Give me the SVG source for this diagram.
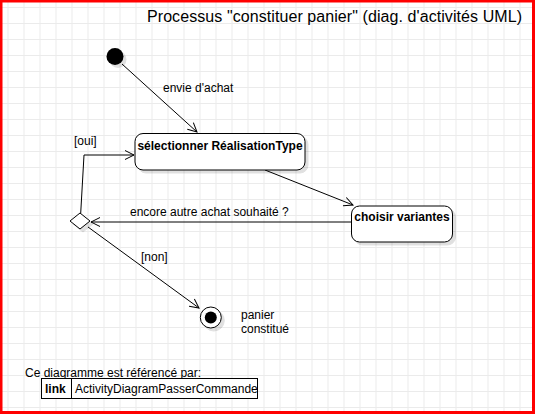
<svg xmlns="http://www.w3.org/2000/svg" width="535" height="414" viewBox="0 0 535 414">
<defs>
<pattern id="grid" x="7.5" y="7" width="16" height="16" patternUnits="userSpaceOnUse">
<path d="M0 0.5H16M0.5 0V16" fill="none" stroke="#ebebeb" stroke-width="1"/>
</pattern>
<marker id="arr" markerWidth="12" markerHeight="12" refX="10" refY="6" orient="auto" markerUnits="userSpaceOnUse">
<path d="M1 1.5L10 6L1 10.5" fill="none" stroke="#000" stroke-width="1"/>
</marker>
<filter id="sh" x="-20%" y="-20%" width="150%" height="160%">
<feOffset dx="3" dy="3" in="SourceAlpha" result="o"/>
<feColorMatrix in="o" type="matrix" values="0 0 0 0 0 0 0 0 0 0 0 0 0 0 0 0 0 0 0.12 0" result="c"/>
<feMerge><feMergeNode in="c"/><feMergeNode in="SourceGraphic"/></feMerge>
</filter>
</defs>
<style>
text{font-family:"Liberation Sans",Arial,sans-serif;fill:#000}
.lbl{font-size:12px}
.act{font-size:12px;font-weight:bold}
.node{fill:#fff;stroke:#000;stroke-width:1}
.edge{fill:none;stroke:#000;stroke-width:1}
</style>
<rect x="0" y="0" width="535" height="414" fill="#fff"/>
<rect x="0" y="0" width="535" height="414" fill="url(#grid)"/>
<rect x="1" y="1" width="532.5" height="411.5" fill="none" stroke="#ff0000" stroke-width="3"/>
<text id="title" x="147" y="22" font-size="16" textLength="375" lengthAdjust="spacing" fill="#000">Processus "constituer panier" (diag. d'activités UML)</text>

<g id="connectors">
<path class="edge" d="M122 64L197 132" marker-end="url(#arr)"/>
<path class="edge" d="M80.7 213.3L84 155H134" marker-end="url(#arr)"/>
<path class="edge" d="M265 170L353 205" marker-end="url(#arr)"/>
<path class="edge" d="M351 222H91" marker-end="url(#arr)"/>
<path class="edge" d="M88 227L199 308" marker-end="url(#arr)"/>
<text class="lbl" x="163" y="92">envie d'achat</text>
<text class="lbl" x="74" y="145">[oui]</text>
<text class="lbl" x="130" y="216">encore autre achat souhaité ?</text>
<text class="lbl" x="141" y="261">[non]</text>
</g>

<g id="start"><circle cx="115" cy="56.5" r="8.5" fill="#000" filter="url(#sh)"/></g>
<g id="selectionner">
<rect class="node" x="135" y="133.5" width="170" height="36.5" rx="8" filter="url(#sh)"/>
<text class="act" x="220" y="149.5" text-anchor="middle">sélectionner RéalisationType</text>
</g>
<g id="choisir">
<rect class="node" x="351.5" y="206" width="101" height="36" rx="8" filter="url(#sh)"/>
<text class="act" x="402" y="221" text-anchor="middle">choisir variantes</text>
</g>
<g id="decision"><path class="node" d="M80 213L90 221L80 229L70 221Z" filter="url(#sh)"/></g>
<g id="end">
<circle cx="210.8" cy="317.5" r="10.5" fill="#fff" stroke="#000" filter="url(#sh)"/>
<circle cx="210.8" cy="317.5" r="6" fill="#000"/>
<text class="lbl" x="241" y="319">panier</text>
<text class="lbl" x="241" y="332.5">constitué</text>
</g>
<g id="reference">
<text class="lbl" x="25" y="377">Ce diagramme est référencé par:</text>
<rect x="41.5" y="378.5" width="216" height="20" fill="#fff" stroke="#000"/>
<line x1="71.5" y1="378.5" x2="71.5" y2="398.5" stroke="#000"/>
<text class="act" x="45" y="393">link</text>
<text class="lbl" x="75" y="393">ActivityDiagramPasserCommande</text>
</g>
</svg>
